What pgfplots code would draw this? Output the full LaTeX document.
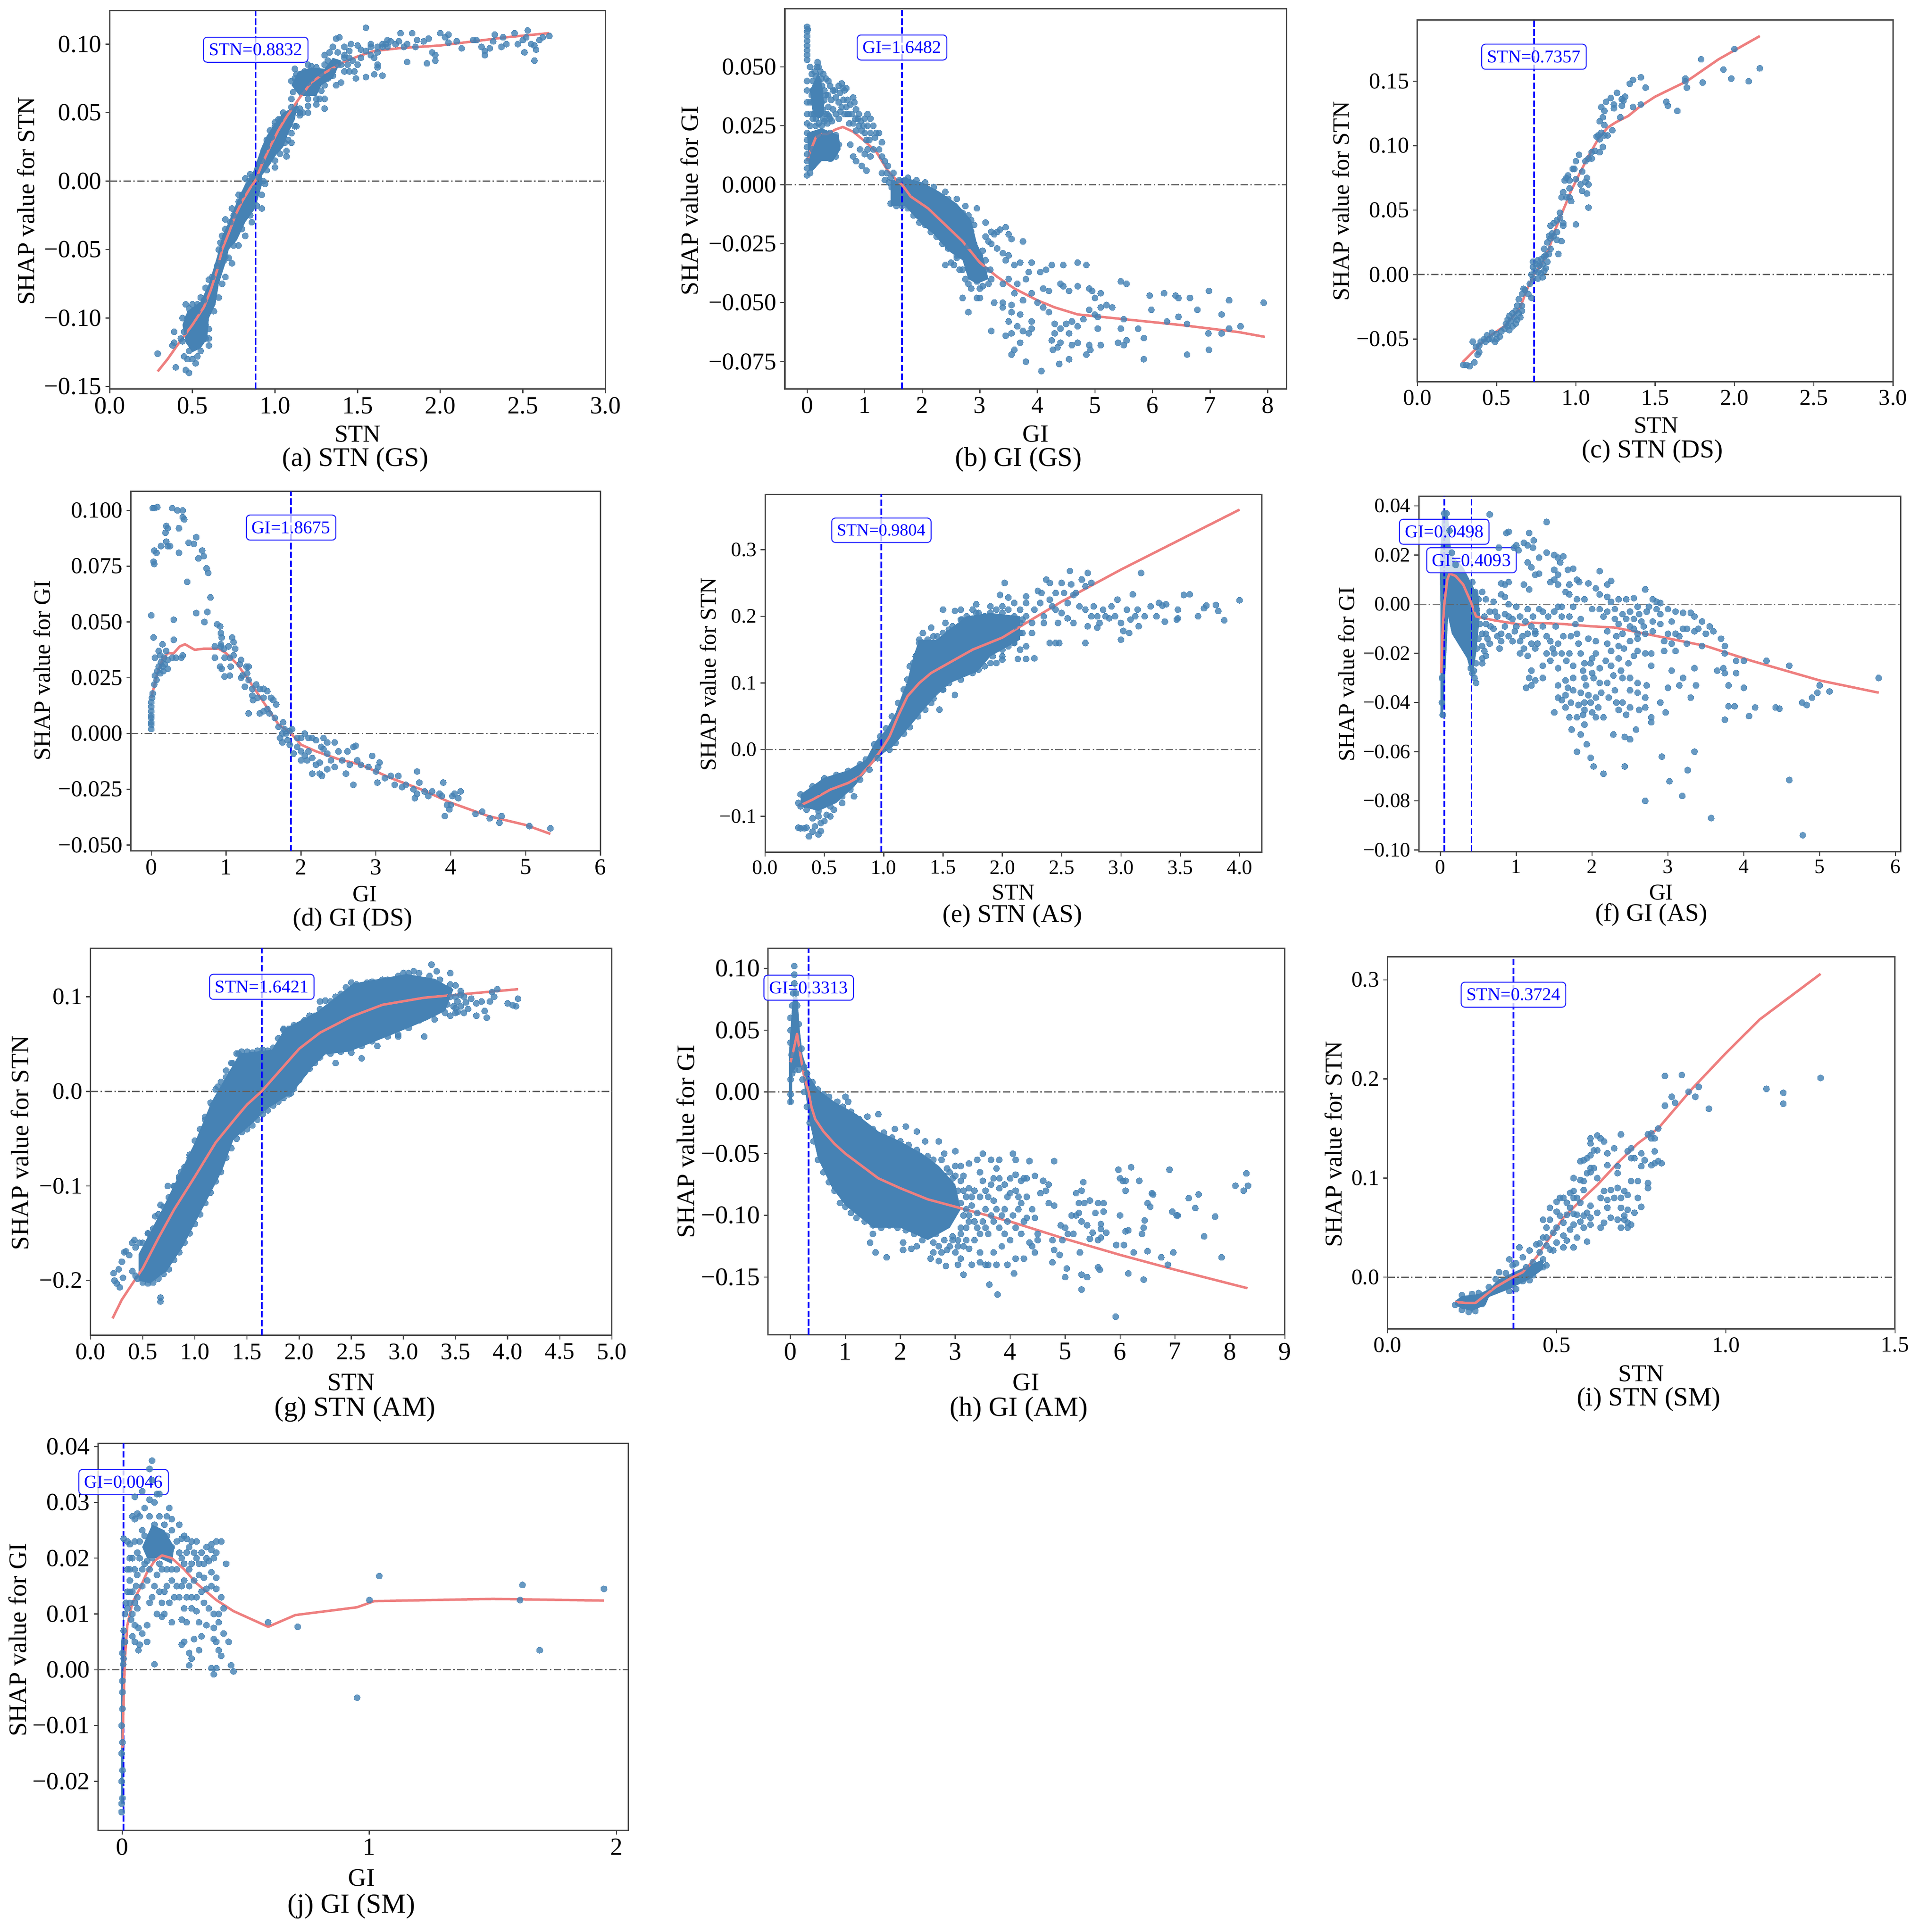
\documentclass[border=0pt]{standalone}
\usepackage{fontspec}
\setmainfont{Liberation Serif}
\usepackage{pgfplots}
\pgfplotsset{compat=1.18}
\definecolor{steel}{HTML}{4682B4}
\definecolor{fitred}{HTML}{EE7F7F}
\definecolor{frame}{HTML}{444444}
\pgfplotsset{
  shap/.style={scale only axis, anchor=south west, clip=false, scaled ticks=false, axis line style={color=frame,line width=.55pt},
    tick style={color=frame,line width=.45pt}, major tick length=1.75pt, tick align=outside,
    xtick pos=left, ytick pos=left, tick label style={inner sep=1.4pt},
    xlabel style={anchor=center,inner sep=0pt}, ylabel style={anchor=center,inner sep=0pt}},
  shapfont/.style 2 args={tick label style={font=\fontsize{#1}{#1}\selectfont}, label style={font=\fontsize{#2}{#2}\selectfont}},
  dots/.style={only marks, color=steel, mark=*, mark size=1.25pt, mark options={draw=steel,line width=0pt,fill=steel,opacity=.82}},
  cloud/.style={draw=none, fill=steel},
  fitline/.style={fitred, line width=1pt, no marks, line join=round},
  vl/.style={blue, line width=.7pt, dash pattern=on 2.6pt off 1pt, no marks},
  hl/.style={color=black!62, line width=.5pt, dash pattern=on 3pt off 1pt on .6pt off 1pt, no marks},
}
\tikzset{ann/.style={draw=blue!85, fill=white, fill opacity=.75, text opacity=1, text=blue, rounded corners=1.5pt,
    inner xsep=2.2pt, inner ysep=2.6pt, line width=.4pt, font=\fontsize{7.3}{8}\selectfont},
  subcap/.style={font=\fontsize{#1}{12}\selectfont}}
\begin{document}
\begin{tikzpicture}
\useasboundingbox (0,0) rectangle (777.5pt,783.5pt);

% (a) STN (GS)
\begin{axis}[shap, shapfont={10}{9.9}, at={(44.5pt,625.75pt)}, width=201pt, height=153.4pt,
  xmin=0, xmax=3, ymin=-0.1518, ymax=0.1244,
  xtick={0,0.5,1,1.5,2,2.5,3}, xticklabels={0.0,0.5,1.0,1.5,2.0,2.5,3.0},
  ytick={-0.15,-0.1,-0.05,0,0.05,0.1}, yticklabels={−0.15,−0.10,−0.05,0.00,0.05,0.10},
  xlabel={STN}, ylabel={SHAP value for STN},
  xlabel style={at={(axis description cs:.5,-.119)}}, ylabel style={at={(axis description cs:-.169,.497)}}]
\addplot[cloud] coordinates {(0.46,-0.118)(0.44,-0.105)(0.47,-0.095)(0.55,-0.088)(0.6,-0.075)(0.65,-0.055)(0.68,-0.04)(0.72,-0.03)(0.77,-0.015)(0.82,-0.002)(0.86,0.004)(0.92,0.025)(0.95,0.033)(1.0,0.042)(1.05,0.05)(1.1,0.053)(1.14,0.058)(1.12,0.045)(1.08,0.035)(1.05,0.025)(1.0,0.018)(0.97,0.012)(0.92,0.004)(0.92,-0.003)(0.88,-0.02)(0.82,-0.03)(0.77,-0.043)(0.72,-0.05)(0.7,-0.06)(0.66,-0.075)(0.64,-0.09)(0.6,-0.1)(0.59,-0.115)(0.55,-0.122)(0.5,-0.125)} --cycle;
\addplot[cloud] coordinates {(1.1,0.07)(1.14,0.08)(1.22,0.083)(1.3,0.082)(1.35,0.09)(1.4,0.088)(1.35,0.075)(1.28,0.07)(1.25,0.062)(1.15,0.062)} --cycle;
\addplot[dots] coordinates {(0.29,-0.126)(0.38,-0.12)(0.39,-0.118)(0.39,-0.11)(0.4,-0.136)(0.44,-0.117)(0.46,-0.138)(0.48,-0.14)(0.45,-0.128)(0.47,-0.13)(0.5,-0.13)(0.52,-0.133)(0.53,-0.128)(0.48,-0.124)(0.55,-0.124)(0.43,-0.115)(0.45,-0.11)(0.47,-0.1)(0.48,-0.093)(0.5,-0.098)(0.53,-0.09)(0.57,-0.087)(0.58,-0.078)(0.6,-0.072)(0.62,-0.07)(0.65,-0.062)(0.66,-0.05)(0.68,-0.04)(0.7,-0.035)(0.73,-0.03)(0.75,-0.025)(0.78,-0.015)(0.8,-0.01)(0.84,0)(0.86,0.003)(0.9,0.003)(0.93,0)(0.94,-0.002)(0.89,-0.018)(0.85,-0.025)(0.8,-0.035)(0.75,-0.047)(0.74,-0.06)(0.69,-0.058)(0.7,-0.07)(0.6,-0.115)(0.58,-0.105)(0.92,0.015)(0.93,0.022)(0.95,0.03)(0.97,0.037)(1,0.04)(1.03,0.045)(1.05,0.05)(1.1,0.054)(1.13,0.052)(1.0,0.015)(1.03,0.02)(1.07,0.022)(1.06,0.028)(1.1,0.035)(1.12,0.04)(1.15,0.048)(1.15,0.053)(1.2,0.055)(1.17,0.05)(1.1,0.06)(1.11,0.065)(1.12,0.075)(1.13,0.078)(1.18,0.08)(1.22,0.084)(1.25,0.083)(1.3,0.085)(1.32,0.088)(1.33,0.094)(1.35,0.098)(1.3,0.092)(1.37,0.104)(1.39,0.105)(1.42,0.098)(1.46,0.1)(1.5,0.099)(1.45,0.095)(1.38,0.094)(1.42,0.09)(1.47,0.088)(1.5,0.085)(1.55,0.112)(1.55,0.095)(1.58,0.098)(1.6,0.09)(1.65,0.098)(1.67,0.1)(1.7,0.102)(1.73,0.1)(1.76,0.108)(1.8,0.1)(1.83,0.108)(1.78,0.098)(1.85,0.098)(1.86,0.103)(1.9,0.102)(1.93,0.104)(1.95,0.094)(1.97,0.092)(1.92,0.086)(1.97,0.088)(2.0,0.108)(2.03,0.105)(2.05,0.107)(2.05,0.101)(2.1,0.102)(2.13,0.097)(2.2,0.103)(2.22,0.103)(2.25,0.098)(2.27,0.092)(2.27,0.095)(2.3,0.097)(2.32,0.102)(2.33,0.107)(2.37,0.098)(2.38,0.105)(2.4,0.1)(2.45,0.108)(2.47,0.1)(2.5,0.103)(2.52,0.105)(2.53,0.11)(2.55,0.1)(2.57,0.099)(2.58,0.096)(2.6,0.103)(2.62,0.105)(2.66,0.106)(2.51,0.094)(2.57,0.088)(1.8,0.087)(1.62,0.085)(1.6,0.078)(1.65,0.077)(1.62,0.083)(1.55,0.076)(1.49,0.075)(1.4,0.072)(1.37,0.07)(1.3,0.07)(1.3,0.06)(1.3,0.053)(1.25,0.06)(1.2,0.06)(1.15,0.05)(1.28,0.078)(1.32,0.075)(1.35,0.08)(1.42,0.08)(1.45,0.08)(1.28,0.066)(1.22,0.067)(1.25,0.056)(1.35,0.077)(1.4,0.085)(1.44,0.085)(1.52,0.09)(1.58,0.092)(1.62,0.094)(1.68,0.098)
(0.44,-0.1)(0.46,-0.09)(0.5,-0.09)(0.53,-0.095)(0.55,-0.085)(0.6,-0.12)(0.58,-0.115)(0.6,-0.108)(0.63,-0.095)(0.66,-0.085)(0.68,-0.075)(0.66,-0.06)(0.67,-0.045)(0.7,-0.028)(0.74,-0.02)(0.78,-0.01)(0.82,0.002)(0.85,0.005)(0.88,-0.005)(0.92,-0.01)(0.92,-0.02)(0.86,-0.03)(0.82,-0.04)(0.78,-0.047)(0.72,-0.056)(0.75,-0.04)(0.7,-0.055)(0.95,0.025)(0.98,0.032)(1,0.043)(1.02,0.045)(1.08,0.03)(1.1,0.028)(1.07,0.018)(1,0.01)(0.95,0.008)(1.13,0.04)(1.2,0.05)(1.2,0.072)(1.25,0.07)(1.3,0.075)(1.15,0.07)(1.17,0.065)(1.22,0.075)(1.27,0.06)(1.1,0.073)(1.12,0.082)(1.2,0.085)(1.35,0.086)(1.38,0.085)(1.42,0.092)(1.45,0.09)(1.48,0.08)(1.52,0.096)(1.58,0.1)(1.62,0.098)(1.65,0.1)(1.75,0.102)(1.68,0.103)};
\addplot[hl] coordinates {(0,0)(3,0)};
\addplot[vl] coordinates {(0.8832,-0.1518)(0.8832,0.1244)};
\addplot[fitline] coordinates {(0.29,-0.139)(0.35,-0.13)(0.42,-0.118)(0.5,-0.105)(0.57,-0.092)(0.61,-0.08)(0.65,-0.065)(0.68,-0.05)(0.72,-0.038)(0.76,-0.025)(0.8,-0.015)(0.85,-0.005)(0.88,0)(0.92,0.012)(0.97,0.025)(1.02,0.037)(1.07,0.047)(1.15,0.061)(1.22,0.072)(1.3,0.079)(1.4,0.086)(1.5,0.091)(1.6,0.095)(1.75,0.097)(2.0,0.099)(2.2,0.102)(2.4,0.105)(2.66,0.108)};
\node[ann] at (axis cs:0.8832,0.0959) {STN=0.8832};
\end{axis}
\node[subcap=10.9] at (144pt,597pt) {(a) STN (GS)};

% (b) GI (GS)
\begin{axis}[shap, shapfont={9.8}{10}, at={(318.2pt,625.75pt)}, width=203.4pt, height=154.25pt,
  xmin=-0.388, xmax=8.326, ymin=-0.0866, ymax=0.0747,
  xtick={0,1,2,3,4,5,6,7,8}, xticklabels={0,1,2,3,4,5,6,7,8},
  ytick={-0.075,-0.05,-0.025,0,0.025,0.05}, yticklabels={−0.075,−0.050,−0.025,0.000,0.025,0.050},
  xlabel={GI}, ylabel={SHAP value for GI},
  xlabel style={at={(axis description cs:.5,-.118)}}, ylabel style={at={(axis description cs:-.19,.495)}}]
\addplot[cloud] coordinates {(1.45,0.002)(1.7,0.003)(2,0.001)(2.3,-0.003)(2.6,-0.008)(2.85,-0.015)(2.95,-0.025)(3.05,-0.03)(3.15,-0.04)(2.95,-0.042)(2.8,-0.04)(2.7,-0.032)(2.45,-0.028)(2.2,-0.021)(2,-0.017)(1.7,-0.009)(1.45,-0.009)} --cycle;
\addplot[cloud] coordinates {(0.03,0.006)(0,0.022)(0.25,0.024)(0.55,0.021)(0.58,0.015)(0.45,0.01)(0.25,0.01)(0.1,0.006)} --cycle;
\addplot[cloud] coordinates {(0.05,0.04)(0.2,0.048)(0.28,0.04)(0.3,0.03)(0.2,0.028)(0.1,0.03)} --cycle;
\addplot[dots] coordinates {(0,0.067)(0,0.065)(0,0.063)(0,0.061)(0,0.059)(0,0.057)(0,0.055)(0,0.053)(0.01,0.066)(0,0.004)(0,0.007)(0,0.01)(0,0.013)(0,0.016)(0,0.019)(0,0.022)(0,0.026)(0,0.03)(0,0.035)(0,0.04)(0,0.044)(0.05,0.05)(0.08,0.047)(0.1,0.044)(0.13,0.048)(0.17,0.05)(0.18,0.052)(0.2,0.05)(0.23,0.048)(0.25,0.045)(0.1,0.04)(0.13,0.038)(0.17,0.042)(0.2,0.044)(0.22,0.04)(0.26,0.042)(0.3,0.04)(0.33,0.045)(0.37,0.044)(0.4,0.042)(0.36,0.038)(0.3,0.036)(0.25,0.035)(0.2,0.036)(0.15,0.035)(0.1,0.035)(0.12,0.03)(0.17,0.03)(0.22,0.03)(0.27,0.032)(0.32,0.03)(0.37,0.033)(0.42,0.036)(0.45,0.032)(0.4,0.028)(0.35,0.026)(0.3,0.027)(0.25,0.025)(0.2,0.026)(0.15,0.025)(0.05,0.025)(0.05,0.035)(0.55,0.042)(0.57,0.039)(0.6,0.043)(0.62,0.041)(0.65,0.04)(0.68,0.041)(0.7,0.036)(0.55,0.035)(0.5,0.03)(0.55,0.028)(0.6,0.033)(0.65,0.03)(0.7,0.03)(0.73,0.026)(0.8,0.037)(0.82,0.035)(0.85,0.032)(0.9,0.03)(0.78,0.03)(0.88,0.028)(0.93,0.027)(0.8,0.026)(0.95,0.023)(1,0.028)(1.05,0.03)(1.1,0.028)(1.15,0.025)(1.05,0.025)(1.2,0.022)(1.25,0.022)(1.1,0.022)(1.0,0.022)(0.85,0.023)(0.75,0.017)(0.8,0.012)(0.85,0.01)(0.95,0.008)(1.03,0.006)(0.92,0.015)(1.0,0.013)(1.05,0.015)(1.1,0.012)(1.15,0.015)(1.25,0.015)(1.3,0.018)(1.3,0.012)(1.35,0.01)(1.4,0.008)(1.38,0.005)(1.3,0.005)(1.35,0.002)(1.42,0.001)(1.47,-0.001)(1.45,0.003)(1.5,0.005)(0.1,0.015)(0.2,0.021)(0.3,0.021)(0.4,0.022)(0.5,0.021)(0.55,0.017)(0.5,0.012)(0.4,0.011)(0.3,0.012)(0.2,0.011)(0.1,0.008)(0.05,0.005)(1.7,0.002)(1.85,-0.001)(2,-0.002)(2.2,-0.004)(2.3,-0.007)(2.45,-0.006)(2.55,-0.009)(2.6,-0.012)(2.7,-0.012)(2.8,-0.013)(2.85,-0.015)(2.9,-0.017)(2.85,-0.02)(2.9,-0.025)(2.8,-0.026)(2.6,-0.03)(2.5,-0.033)(2.4,-0.034)(2.55,-0.034)(2.65,-0.036)(2.7,-0.036)(2.75,-0.04)(2.8,-0.042)(2.85,-0.044)(2.9,-0.037)(3.0,-0.03)(3.1,-0.036)(3.1,-0.016)(3.2,-0.02)(3.25,-0.021)(3.3,-0.02)(3.35,-0.019)(3.45,-0.018)(3.5,-0.021)(3.55,-0.023)(3.75,-0.024)(3.1,-0.022)(3.15,-0.024)(3.2,-0.025)(3.3,-0.027)(3.4,-0.029)(3.5,-0.03)(3.45,-0.032)(3.6,-0.034)(3.7,-0.033)(3.9,-0.033)(3.85,-0.037)(4.05,-0.037)(4.15,-0.036)(4.25,-0.034)(4.45,-0.034)(4.7,-0.033)(4.85,-0.034)(3.8,-0.04)(3.65,-0.042)(3.5,-0.04)(3.4,-0.042)(3.2,-0.04)(3.05,-0.043)(3,-0.048)(2.7,-0.048)(2.95,-0.048)(2.8,-0.054)(3.25,-0.05)(3.4,-0.05)(3.55,-0.051)(3.6,-0.046)(3.75,-0.049)(3.9,-0.046)(4.1,-0.044)(4.2,-0.045)(4,-0.05)(4.1,-0.052)(4.2,-0.054)(3.9,-0.058)(3.7,-0.055)(3.55,-0.054)(3.4,-0.052)(3.5,-0.058)(3.65,-0.06)(3.75,-0.062)(3.85,-0.063)(3.9,-0.061)(3.2,-0.062)(3.45,-0.064)(3.55,-0.063)(3.7,-0.067)(4.3,-0.059)(4.4,-0.061)(4.3,-0.063)(4.25,-0.066)(4.35,-0.069)(4.4,-0.067)(4.5,-0.059)(4.6,-0.058)(4.7,-0.06)(4.8,-0.057)(4.6,-0.068)(4.7,-0.067)(4.55,-0.063)(4.9,-0.053)(5,-0.048)(5.1,-0.046)(4.9,-0.044)(4.95,-0.045)(4.7,-0.043)(4.55,-0.045)(4.4,-0.042)(4.45,-0.043)(5.0,-0.055)(5.05,-0.056)(5.1,-0.052)(5.2,-0.051)(5.3,-0.052)(5.05,-0.061)(5.45,-0.041)(5.55,-0.042)(5.5,-0.057)(5.45,-0.061)(5.4,-0.067)(5.5,-0.068)(5.55,-0.066)(5.1,-0.068)(4.9,-0.068)(4.92,-0.07)(4.85,-0.072)(5.75,-0.061)(5.85,-0.065)(5.85,-0.074)(5.95,-0.047)(5.98,-0.053)(6.2,-0.046)(6.25,-0.058)(6.45,-0.048)(6.4,-0.047)(6.45,-0.056)(6.6,-0.059)(6.65,-0.048)(6.6,-0.072)(6.78,-0.053)(6.98,-0.045)(6.97,-0.063)(6.98,-0.07)(7.2,-0.055)(7.2,-0.063)(7.33,-0.049)(7.33,-0.061)(7.53,-0.06)(7.93,-0.05)(3.55,-0.072)(3.8,-0.075)(4.07,-0.079)(4.38,-0.076)(4.55,-0.074)(4.27,-0.07)(3.6,-0.07)
(1.45,-0.008)(1.55,-0.009)(1.65,-0.009)(1.75,-0.01)(1.85,-0.013)(1.95,-0.016)(2.05,-0.017)(2.15,-0.02)(2.25,-0.022)(2.35,-0.025)(2.45,-0.027)(2.6,-0.031)(2.95,-0.01)(2.75,-0.009)(2.6,-0.006)(2.4,-0.003)(2.2,-0.001)(2.05,0.001)(1.9,0.002)(1.75,0.003)(1.6,0.002)(3.05,-0.028)(3.1,-0.032)(3.18,-0.036)(3.15,-0.042)(3,-0.044)(2.95,-0.041)
(0.08,0.038)(0.15,0.046)(0.28,0.047)(0.33,0.038)(0.38,0.029)(0.43,0.027)(0.48,0.04)(0.5,0.037)(0.45,0.04)(0.58,0.031)(0.63,0.036)(0.68,0.033)(0.72,0.03)(0.75,0.034)(0.84,0.028)(0.9,0.025)(0.98,0.025)(1.08,0.019)(1.18,0.02)(1.03,0.019)(0.1,0.028)(0.28,0.028)(0.07,0.03)(0.15,0.028)(0.35,0.03)};
\addplot[hl] coordinates {(-0.388,0)(8.326,0)};
\addplot[vl] coordinates {(1.6482,-0.0866)(1.6482,0.0747)};
\addplot[fitline] coordinates {(0,0.01)(0.05,0.014)(0.15,0.02)(0.25,0.0215)(0.35,0.0215)(0.5,0.0235)(0.62,0.0245)(0.8,0.0225)(1.0,0.0185)(1.2,0.014)(1.4,0.006)(1.55,0.002)(1.65,0)(1.8,-0.005)(2.1,-0.01)(2.4,-0.017)(2.7,-0.024)(3,-0.033)(3.3,-0.039)(3.6,-0.044)(4,-0.049)(4.3,-0.052)(4.7,-0.055)(5.5,-0.057)(6.5,-0.0595)(7,-0.061)(7.5,-0.0625)(7.95,-0.0645)};
\node[ann] at (axis cs:1.6482,0.0582) {GI=1.6482};
\end{axis}
\node[subcap=11] at (413pt,597pt) {(b) GI (GS)};

% (c) STN (DS)
\begin{axis}[shap, shapfont={9.2}{9.5}, at={(574.65pt,628.6pt)}, width=192.9pt, height=146.7pt,
  xmin=0, xmax=3, ymin=-0.0832, ymax=0.1973,
  xtick={0,0.5,1,1.5,2,2.5,3}, xticklabels={0.0,0.5,1.0,1.5,2.0,2.5,3.0},
  ytick={-0.05,0,0.05,0.1,0.15}, yticklabels={−0.05,0.00,0.05,0.10,0.15},
  xlabel={STN}, ylabel={SHAP value for STN},
  xlabel style={at={(axis description cs:.502,-.12)}}, ylabel style={at={(axis description cs:-.161,.5)}}]
\addplot[dots] coordinates {(0.29,-0.07)(0.31,-0.07)(0.33,-0.071)(0.36,-0.068)(0.38,-0.062)(0.39,-0.06)(0.35,-0.052)(0.37,-0.056)(0.39,-0.055)(0.4,-0.052)(0.42,-0.05)(0.44,-0.047)(0.43,-0.052)(0.45,-0.05)(0.47,-0.05)(0.49,-0.052)(0.5,-0.05)(0.52,-0.048)(0.5,-0.046)(0.47,-0.045)(0.53,-0.044)(0.55,-0.042)(0.57,-0.04)(0.58,-0.043)(0.6,-0.04)(0.62,-0.038)(0.63,-0.035)(0.65,-0.033)(0.56,-0.038)(0.57,-0.035)(0.58,-0.032)(0.6,-0.03)(0.62,-0.028)(0.64,-0.03)(0.66,-0.028)(0.66,-0.024)(0.63,-0.024)(0.61,-0.033)(0.59,-0.036)(0.64,-0.019)(0.66,-0.015)(0.67,-0.011)(0.68,-0.012)(0.7,-0.015)(0.72,-0.018)(0.71,-0.007)(0.73,-0.003)(0.72,0)(0.74,0.003)(0.73,0.006)(0.75,0.008)(0.73,0.01)(0.76,0.011)(0.78,0.012)(0.8,0.014)(0.81,0.015)(0.83,0.016)(0.76,0.002)(0.78,0.001)(0.8,0.003)(0.81,0.005)(0.79,-0.002)(0.76,-0.003)(0.77,0.007)(0.79,0.008)(0.82,0.01)(0.8,0.02)(0.84,0.02)(0.82,0.025)(0.84,0.028)(0.83,0.03)(0.85,0.032)(0.86,0.03)(0.88,0.033)(0.84,0.038)(0.86,0.04)(0.88,0.042)(0.9,0.044)(0.92,0.04)(0.92,0.038)(0.9,0.048)(0.88,0.027)(0.91,0.026)(0.89,0.016)(1.0,0.039)(0.91,0.06)(0.92,0.064)(0.94,0.06)(0.96,0.06)(0.97,0.057)(0.96,0.067)(0.93,0.073)(0.94,0.075)(0.95,0.077)(0.96,0.073)(0.98,0.082)(0.99,0.082)(1,0.088)(1.02,0.093)(1.0,0.074)(1.03,0.07)(1.04,0.08)(1.06,0.088)(1.07,0.075)(1.06,0.072)(1.08,0.07)(1.07,0.063)(1.04,0.065)(1.08,0.052)(1.08,0.09)(1.1,0.095)(1.1,0.09)(1.12,0.096)(1.14,0.108)(1.13,0.107)(1.16,0.11)(1.15,0.105)(1.18,0.108)(1.2,0.108)(1.17,0.099)(1.15,0.095)(1.23,0.112)(1.15,0.119)(1.17,0.122)(1.18,0.116)(1.16,0.13)(1.19,0.134)(1.18,0.127)(1.22,0.137)(1.24,0.132)(1.24,0.129)(1.26,0.141)(1.29,0.136)(1.31,0.138)(1.3,0.135)(1.29,0.131)(1.28,0.122)(1.36,0.13)(1.34,0.148)(1.36,0.151)(1.41,0.153)(1.44,0.145)(1.41,0.132)(1.57,0.134)(1.58,0.131)(1.64,0.127)(1.69,0.15)(1.69,0.152)(1.7,0.145)(1.8,0.149)(1.79,0.167)(1.93,0.159)(1.98,0.152)(2.0,0.175)(2.09,0.15)(2.16,0.16)};
\addplot[hl] coordinates {(0,0)(3,0)};
\addplot[vl] coordinates {(0.7357,-0.0832)(0.7357,0.1973)};
\addplot[fitline] coordinates {(0.285,-0.068)(0.35,-0.06)(0.43,-0.05)(0.5,-0.044)(0.55,-0.04)(0.6,-0.033)(0.65,-0.025)(0.69,-0.012)(0.7357,0)(0.78,0.007)(0.83,0.02)(0.87,0.035)(0.92,0.05)(0.97,0.065)(1.03,0.08)(1.08,0.092)(1.14,0.105)(1.2,0.114)(1.25,0.118)(1.33,0.123)(1.4,0.13)(1.5,0.138)(1.7,0.15)(1.9,0.167)(2.16,0.185)};
\node[ann] at (axis cs:0.7357,0.169) {STN=0.7357};
\end{axis}
\node[subcap=10.5] at (670pt,600.5pt) {(c) STN (DS)};

% (d) GI (DS)
\begin{axis}[shap, shapfont={9.3}{9.5}, at={(53.1pt,438.35pt)}, width=190.4pt, height=145.85pt,
  xmin=-0.271, xmax=6, ymin=-0.0527, ymax=0.1085,
  xtick={0,1,2,3,4,5,6}, xticklabels={0,1,2,3,4,5,6},
  ytick={-0.05,-0.025,0,0.025,0.05,0.075,0.1}, yticklabels={−0.050,−0.025,0.000,0.025,0.050,0.075,0.100},
  xlabel={GI}, ylabel={SHAP value for GI},
  xlabel style={at={(axis description cs:.498,-.119)}}, ylabel style={at={(axis description cs:-.19,.502)}}]
\addplot[dots] coordinates {(0.02,0.101)(0.04,0.101)(0.08,0.1015)(0.28,0.101)(0.35,0.1)(0.42,0.1)(0.42,0.097)(0.44,0.096)(0.2,0.093)(0.22,0.092)(0.19,0.09)(0.37,0.092)(0.13,0.084)(0.2,0.086)(0.22,0.084)(0.25,0.084)(0.5,0.0855)(0.57,0.085)(0.6,0.088)(0.04,0.082)(0.07,0.081)(0.37,0.081)(0.68,0.082)(0.7,0.0795)(0.63,0.0785)(0.03,0.077)(0.04,0.076)(0.74,0.074)(0.76,0.072)(0.48,0.068)(0.79,0.061)(0.6,0.054)(0.75,0.0545)(0.71,0.05)(0,0.053)(0.3,0.051)(0.03,0.043)(0.3,0.042)(0.15,0.04)(0.1,0.037)(0.2,0.037)(0.05,0.034)(0.12,0.035)(0.17,0.034)(0.22,0.033)(0.28,0.034)(0.33,0.034)(0.4,0.034)(0.42,0.035)(0.05,0.026)(0.08,0.028)(0.1,0.03)(0.13,0.032)(0.15,0.03)(0.18,0.031)(0.07,0.024)(0.04,0.022)(0.12,0.027)(0.16,0.028)(0.22,0.029)(0.02,0.018)(0.01,0.016)(0,0.014)(0,0.012)(0,0.01)(0,0.008)(0,0.007)(0,0.005)(0,0.004)(0,0.002)(0.88,0.049)(0.92,0.048)(0.93,0.045)(0.94,0.043)(0.93,0.04)(0.85,0.039)(0.93,0.039)(0.97,0.038)(1.03,0.039)(1.08,0.043)(1.1,0.041)(1.12,0.038)(0.85,0.034)(0.98,0.034)(1.05,0.034)(1.1,0.035)(0.92,0.03)(0.94,0.029)(1.06,0.03)(0.98,0.0255)(1.05,0.026)(1.2,0.033)(1.18,0.031)(1.27,0.03)(1.3,0.03)(1.22,0.026)(1.2,0.025)(1.28,0.027)(1.3,0.024)(1.25,0.021)(1.35,0.02)(1.4,0.022)(1.45,0.02)(1.5,0.02)(1.55,0.019)(1.35,0.017)(1.42,0.016)(1.3,0.009)(1.36,0.015)(1.5,0.016)(1.6,0.016)(1.63,0.015)(1.67,0.013)(1.5,0.01)(1.55,0.011)(1.58,0.009)(1.45,0.009)(1.65,0.007)(1.7,0.003)(1.76,0.005)(1.78,0.002)(1.75,0)(1.8,0)(1.72,-0.002)(1.75,-0.004)(1.85,0.001)(1.88,0.002)(1.82,-0.003)(1.85,-0.005)(1.9,-0.009)(1.95,-0.002)(2,-0.002)(2.05,0)(2.1,-0.002)(2.15,-0.002)(2.2,-0.003)(2.3,-0.002)(2.35,-0.004)(2.27,-0.006)(2.45,-0.004)(1.95,-0.006)(2,-0.008)(2.05,-0.01)(2.1,-0.008)(2.15,-0.011)(2.25,-0.013)(2.3,-0.007)(2.35,-0.009)(2.0,-0.012)(2.08,-0.012)(2.2,-0.014)(2.15,-0.018)(2.25,-0.018)(2.28,-0.019)(2.35,-0.016)(2.4,-0.012)(2.45,-0.015)(2.5,-0.008)(2.55,-0.012)(2.62,-0.008)(2.65,-0.014)(2.6,-0.018)(2.7,-0.006)(2.73,-0.0055)(2.75,-0.012)(2.8,-0.014)(2.7,-0.023)(2.95,-0.01)(3.05,-0.013)(3.03,-0.015)(2.9,-0.015)(3,-0.017)(3.02,-0.022)(3.12,-0.02)(3.2,-0.019)(3.25,-0.023)(3.3,-0.019)(3.35,-0.024)(3.4,-0.023)(3.5,-0.025)(3.55,-0.017)(3.58,-0.022)(3.52,-0.029)(3.55,-0.027)(3.65,-0.026)(3.7,-0.028)(3.75,-0.026)(3.85,-0.027)(3.88,-0.028)(3.9,-0.022)(3.95,-0.032)(3.98,-0.034)(4.02,-0.028)(4.05,-0.027)(4.1,-0.029)(4.13,-0.026)(4,-0.032)(3.92,-0.037)(4.33,-0.036)(4.42,-0.035)(4.52,-0.038)(4.65,-0.04)(4.68,-0.037)(5.05,-0.0415)(5.33,-0.0425)};
\addplot[hl] coordinates {(-0.271,0)(6,0)};
\addplot[vl] coordinates {(1.8675,-0.0527)(1.8675,0.1085)};
\addplot[fitline] coordinates {(0,0.016)(0.03,0.02)(0.08,0.027)(0.15,0.033)(0.22,0.036)(0.3,0.036)(0.38,0.039)(0.45,0.04)(0.58,0.0375)(0.7,0.038)(0.9,0.038)(1.0,0.036)(1.15,0.031)(1.3,0.024)(1.5,0.014)(1.7,0.004)(1.8675,0)(2,-0.005)(2.2,-0.008)(2.5,-0.0115)(2.8,-0.014)(3.2,-0.02)(3.6,-0.025)(4,-0.031)(4.5,-0.037)(5,-0.041)(5.33,-0.045)};
\node[ann] at (axis cs:1.8675,0.0923) {GI=1.8675};
\end{axis}
\node[subcap=10.4] at (143pt,410.5pt) {(d) GI (DS)};

% (e) STN (AS)
\begin{axis}[shap, shapfont={8.3}{9.2}, at={(310.2pt,437.9pt)}, width=201.35pt, height=145.1pt,
  xmin=0, xmax=4.186, ymin=-0.1538, ymax=0.3828,
  xtick={0,0.5,1,1.5,2,2.5,3,3.5,4}, xticklabels={0.0,0.5,1.0,1.5,2.0,2.5,3.0,3.5,4.0},
  ytick={-0.1,0,0.1,0.2,0.3}, yticklabels={−0.1,0.0,0.1,0.2,0.3},
  xlabel={STN}, ylabel={SHAP value for STN},
  xlabel style={at={(axis description cs:.5,-.113)}}, ylabel style={at={(axis description cs:-.115,.497)}}]
\addplot[cloud] coordinates {(0.3,-0.085)(0.45,-0.092)(0.6,-0.08)(0.75,-0.056)(0.9,-0.022)(1,-0.005)(1.08,0.005)(1.17,0.024)(1.29,0.05)(1.42,0.077)(1.56,0.1)(1.79,0.117)(1.9,0.14)(2.15,0.165)(2.15,0.2)(1.9,0.205)(1.7,0.2)(1.55,0.18)(1.45,0.165)(1.3,0.165)(1.25,0.14)(1.2,0.103)(1.15,0.08)(1.1,0.055)(1.02,0.03)(0.93,0.012)(0.85,-0.015)(0.7,-0.031)(0.5,-0.042)(0.3,-0.067)} --cycle;
\addplot[dots] coordinates {(0.28,-0.117)(0.3,-0.118)(0.33,-0.118)(0.35,-0.117)(0.37,-0.13)(0.4,-0.123)(0.42,-0.115)(0.45,-0.127)(0.47,-0.122)(0.4,-0.103)(0.45,-0.1)(0.47,-0.11)(0.5,-0.107)(0.55,-0.1)(0.52,-0.098)(0.58,-0.09)(0.28,-0.08)(0.35,-0.069)(0.45,-0.063)(0.55,-0.045)(0.65,-0.04)(0.75,-0.07)(0.65,-0.08)(1.47,0.06)(1.6,0.082)(1.4,0.07)(1.5,0.09)(1.3,0.16)(1.35,0.16)(1.4,0.183)(1.33,0.175)(1.45,0.155)(1.5,0.21)(1.52,0.19)(1.6,0.208)(1.65,0.21)(1.55,0.18)(1.6,0.18)(1.7,0.2)(1.72,0.185)(1.75,0.21)(1.78,0.218)(1.85,0.2)(1.9,0.215)(1.95,0.21)(2,0.215)(2.05,0.21)(1.98,0.232)(2.02,0.25)(2.05,0.228)(2.1,0.22)(2.15,0.21)(2.17,0.195)(2.2,0.22)(2.2,0.23)(2.2,0.2)(2.25,0.175)(2.25,0.19)(2.27,0.21)(2.3,0.238)(2.32,0.22)(2.33,0.235)(2.35,0.2)(2.35,0.19)(2.37,0.255)(2.4,0.225)(2.4,0.25)(2.42,0.215)(2.45,0.21)(2.45,0.235)(2.47,0.19)(2.5,0.25)(2.5,0.205)(2.52,0.235)(2.55,0.22)(2.55,0.197)(2.57,0.268)(2.58,0.248)(2.6,0.232)(2.6,0.19)(2.62,0.235)(2.65,0.215)(2.67,0.255)(2.7,0.245)(2.7,0.21)(2.72,0.265)(2.75,0.25)(2.75,0.2)(2.77,0.215)(2.8,0.2)(2.8,0.183)(2.82,0.19)(2.7,0.16)(2.72,0.185)(2.85,0.21)(2.87,0.2)(2.9,0.197)(2.92,0.215)(2.95,0.2)(3,0.19)(2.97,0.225)(3,0.165)(3.02,0.178)(3.07,0.175)(3.05,0.21)(3.08,0.195)(3.1,0.233)(3.12,0.2)(3.14,0.21)(3.15,0.185)(3.17,0.265)(3.2,0.2)(3.25,0.215)(3.3,0.2)(3.32,0.22)(3.35,0.216)(3.38,0.218)(3.37,0.192)(3.48,0.21)(3.48,0.197)(3.47,0.195)(3.53,0.232)(3.58,0.233)(3.65,0.2)(3.7,0.212)(3.72,0.216)(3.8,0.217)(3.82,0.208)(3.87,0.194)(4,0.224)(2.4,0.16)(2.45,0.16)(2.48,0.16)(2.2,0.136)(2.13,0.136)(2.27,0.137)(2.15,0.15)(2.2,0.155)(1.95,0.13)(2.0,0.135)(1.9,0.13)(2.05,0.155)(2.1,0.16)(1.8,0.12)(1.75,0.115)(1.7,0.12)(1.65,0.115)(1.6,0.12)(1.3,0.14)(1.25,0.13)(1.35,0.145)(1.45,0.17)(1.55,0.175)(1.65,0.195)(1.8,0.205)(1.85,0.18)(2.1,0.185)(2.15,0.175)(2.0,0.14)
(0.3,-0.067)(0.4,-0.055)(0.5,-0.043)(0.6,-0.038)(0.7,-0.032)(0.8,-0.022)(0.85,-0.015)(0.92,0.008)(0.97,0.02)(1.02,0.032)(1.07,0.05)(1.12,0.07)(1.17,0.09)(1.2,0.105)(1.22,0.125)(1.27,0.14)(1.3,0.165)(1.37,0.165)(1.42,0.17)(1.5,0.175)(1.58,0.185)(1.66,0.195)(1.78,0.205)(1.9,0.205)(2.0,0.205)(2.1,0.2)(2.15,0.19)(2.17,0.175)(2.1,0.16)(2.0,0.15)(1.92,0.14)(1.85,0.125)(1.75,0.12)(1.65,0.105)(1.55,0.1)(1.5,0.09)(1.42,0.077)(1.35,0.06)(1.29,0.05)(1.22,0.034)(1.17,0.024)(1.1,0.01)(1.05,0)(0.95,-0.013)(0.88,-0.03)(0.8,-0.045)(0.72,-0.06)(0.65,-0.07)(0.55,-0.085)(0.45,-0.092)(0.35,-0.09)(0.3,-0.085)};
\addplot[hl] coordinates {(0,0)(4.186,0)};
\addplot[vl] coordinates {(0.9804,-0.1538)(0.9804,0.3828)};
\addplot[fitline] coordinates {(0.28,-0.085)(0.4,-0.075)(0.55,-0.06)(0.7,-0.05)(0.8,-0.04)(0.9,-0.02)(0.98,0)(1.05,0.02)(1.12,0.05)(1.2,0.08)(1.3,0.1)(1.4,0.115)(1.5,0.125)(1.6,0.135)(1.75,0.15)(2.0,0.168)(2.2,0.19)(2.5,0.222)(3.0,0.27)(3.5,0.315)(4.0,0.36)};
\node[ann,font=\fontsize{6.9}{8}\selectfont] at (axis cs:0.9804,0.329) {STN=0.9804};
\end{axis}
\node[subcap=10.4] at (410.5pt,412pt) {(e) STN (AS)};

% (f) GI (AS)
\begin{axis}[shap, shapfont={8.3}{9.2}, at={(575.25pt,438.1pt)}, width=195.45pt, height=144.1pt,
  xmin=-0.286, xmax=6.071, ymin=-0.1007, ymax=0.0439,
  xtick={0,1,2,3,4,5,6}, xticklabels={0,1,2,3,4,5,6},
  ytick={-0.1,-0.08,-0.06,-0.04,-0.02,0,0.02,0.04}, yticklabels={−0.10,−0.08,−0.06,−0.04,−0.02,0.00,0.02,0.04},
  xlabel={GI}, ylabel={SHAP value for GI},
  xlabel style={at={(axis description cs:.503,-.115)}}, ylabel style={at={(axis description cs:-.15,.499)}}]
\addplot[cloud] coordinates {(0,-0.046)(0,0)(-0.01,0.015)(0.02,0.036)(0.1,0.036)(0.13,0.025)(0.15,0.02)(0.3,0.015)(0.45,0.006)(0.5,0.005)(0.52,-0.005)(0.47,-0.02)(0.42,-0.03)(0.35,-0.022)(0.25,-0.017)(0.15,-0.012)(0.1,-0.005)(0.07,-0.025)(0.03,-0.046)} --cycle;
\addplot[dots] coordinates {(0.65,0.0365)(1.4,0.0335)(0.9,0.0295)(0.87,0.029)(1.17,0.029)(1.23,0.026)(1.1,0.025)(1,0.024)(0.97,0.023)(1.03,0.022)(1.15,0.024)(1.22,0.023)(0.77,0.023)(1.4,0.021)(1.3,0.019)(1.5,0.02)(1.55,0.019)(1.62,0.0195)(1.58,0.017)(1.15,0.017)(1.2,0.015)(1.3,0.0125)(1.25,0.012)(1.5,0.014)(1.55,0.012)(1.68,0.014)(1.75,0.0145)(1.8,0.01)(1.5,0.01)(1.45,0.009)(1.55,0.008)(1.7,0.008)(1.83,0.009)(1.95,0.0085)(2.05,0.0065)(2.1,0.0135)(2.25,0.0095)(2.2,0.008)(2.7,0.006)(0.8,0.0085)(0.85,0.008)(0.9,0.009)(1.1,0.008)(1.17,0.006)(0.8,0.004)(0.85,0.003)(1.65,0.005)(1.7,0.004)(1.8,0.002)(1.9,0.002)(2.1,0.004)(2.2,0.003)(2.25,0.001)(2.35,0.002)(2.45,0.002)(2.55,0.0025)(2.8,0.002)(2.85,0.001)(2.9,0.0005)(0.55,0.005)(0.6,0.002)(0.7,0.001)(0.9,0)(1,-0.001)(1.15,-0.002)(1.3,-0.002)(1.35,-0.003)(1.55,-0.001)(1.6,-0.001)(1.75,-0.001)(2,-0.002)(2.1,-0.002)(2.2,-0.003)(2.3,-0.002)(2.4,-0.004)(2.5,-0.003)(2.6,-0.001)(2.75,-0.001)(2.85,-0.002)(2.9,-0.004)(3,-0.002)(3.1,-0.003)(3.2,-0.0035)(3.3,-0.0035)(0.65,-0.003)(0.75,-0.005)(0.85,-0.004)(0.95,-0.006)(1.05,-0.005)(1.5,-0.003)(1.6,-0.005)(1.7,-0.005)(1.85,-0.006)(2.15,-0.005)(2.3,-0.006)(2.45,-0.006)(2.55,-0.006)(2.65,-0.007)(2.8,-0.007)(3.05,-0.007)(3.35,-0.005)(3.45,-0.007)(0.6,-0.008)(0.7,-0.01)(0.85,-0.009)(1,-0.009)(1.2,-0.009)(1.25,-0.011)(2.35,-0.008)(2.5,-0.009)(2.55,-0.01)(3.2,-0.01)(3.25,-0.01)(3.35,-0.011)(3.55,-0.009)(0.55,-0.012)(0.6,-0.012)(0.8,-0.012)(0.9,-0.013)(1.15,-0.012)(1.25,-0.012)(1.8,-0.012)(2.2,-0.011)(2.4,-0.012)(2.6,-0.012)(2.7,-0.012)(3.5,-0.012)(3.6,-0.011)(0.55,-0.017)(0.65,-0.016)(0.8,-0.015)(0.95,-0.015)(1.05,-0.015)(1.2,-0.016)(1.45,-0.015)(1.55,-0.016)(1.95,-0.014)(2.05,-0.015)(2.2,-0.016)(2.35,-0.017)(2.5,-0.015)(2.6,-0.014)(2.95,-0.015)(3.05,-0.016)(3.15,-0.013)(3.45,-0.017)(3.7,-0.014)(3.75,-0.017)(0.55,-0.022)(0.6,-0.021)(1.05,-0.02)(1.15,-0.021)(1.25,-0.018)(1.4,-0.02)(1.5,-0.02)(1.6,-0.02)(1.7,-0.02)(1.85,-0.02)(2.05,-0.02)(2.35,-0.022)(2.6,-0.019)(2.7,-0.02)(2.78,-0.02)(2.95,-0.019)(3.1,-0.019)(3.75,-0.02)(0.55,-0.024)(1.2,-0.027)(1.35,-0.025)(1.45,-0.023)(1.55,-0.026)(1.75,-0.025)(1.9,-0.024)(2,-0.022)(2.1,-0.026)(2.25,-0.025)(2.38,-0.027)(2.78,-0.025)(3.05,-0.027)(3.35,-0.026)(3.65,-0.027)(3.73,-0.026)(3.9,-0.023)(4,-0.023)(4.3,-0.023)(4.6,-0.025)(1.13,-0.034)(1.17,-0.03)(1.2,-0.033)(1.25,-0.031)(1.35,-0.03)(1.55,-0.033)(1.65,-0.031)(1.75,-0.03)(1.9,-0.03)(2,-0.028)(2.1,-0.032)(2.2,-0.032)(2.4,-0.03)(2.5,-0.03)(2.6,-0.032)(2.72,-0.033)(3.0,-0.034)(3.15,-0.033)(3.2,-0.03)(3.37,-0.033)(3.75,-0.028)(3.8,-0.033)(3.9,-0.028)(4,-0.034)(0.45,-0.03)(0.42,-0.028)(0.47,-0.032)(1.55,-0.038)(1.65,-0.037)(1.75,-0.035)(1.85,-0.036)(1.9,-0.04)(2.05,-0.038)(2.3,-0.035)(2.5,-0.035)(2.6,-0.036)(2.4,-0.04)(2.7,-0.038)(2.9,-0.04)(3.3,-0.038)(1.5,-0.044)(1.65,-0.042)(1.7,-0.046)(1.8,-0.046)(1.9,-0.043)(2,-0.044)(2.05,-0.046)(2.15,-0.046)(2.35,-0.043)(2.5,-0.042)(2.7,-0.042)(2.78,-0.046)(2.78,-0.048)(2.97,-0.044)(3.75,-0.047)(3.8,-0.0415)(3.88,-0.0415)(4.07,-0.0455)(4.15,-0.042)(4.42,-0.042)(4.47,-0.0425)(4.77,-0.04)(4.83,-0.041)(4.9,-0.038)(4.97,-0.036)(5,-0.033)(5.13,-0.0355)(1.73,-0.051)(1.85,-0.053)(1.9,-0.049)(2.28,-0.053)(2.43,-0.054)(2.5,-0.055)(2.58,-0.051)(1.8,-0.06)(1.93,-0.057)(2.02,-0.066)(1.98,-0.0625)(2.15,-0.069)(2.43,-0.066)(2.92,-0.062)(3.35,-0.06)(3.26,-0.0675)(3.02,-0.072)(3.19,-0.078)(2.7,-0.08)(3.57,-0.087)(4.6,-0.0715)(4.78,-0.094)(5.78,-0.03)
(0.52,-0.008)(0.5,-0.014)(0.48,-0.018)(0.47,-0.024)(0.44,-0.027)(0.4,-0.026)(0.48,-0.002)(0.5,0.002)(0.46,0.005)(0.42,0.009)(0.2,0.016)(0.15,0.021)(0.12,0.03)(0.08,0.037)(0.05,0.037)(0.02,-0.04)(0.02,-0.03)(0.03,-0.045)
(0.58,-0.005)(0.62,-0.014)(0.58,-0.019)(0.66,-0.009)(0.72,-0.003)(0.75,-0.013)(0.78,-0.018)(0.9,-0.005)(0.98,-0.011)(1.08,-0.013)(1.12,-0.007)(1.1,-0.018)(1.22,-0.005)(1.28,-0.016)(1.35,-0.009)(1.4,-0.013)(1.42,-0.005)(1.48,-0.018)(1.52,-0.009)(1.62,-0.013)(1.66,-0.023)(1.72,-0.013)(1.78,-0.008)(1.82,-0.016)(1.88,-0.027)(1.92,-0.033)(1.95,-0.037)(1.98,-0.024)(2.02,-0.03)(2.08,-0.042)(2.12,-0.036)(2.18,-0.023)(2.25,-0.019)(2.28,-0.029)(2.32,-0.013)(2.42,-0.018)(2.48,-0.024)(2.55,-0.021)(2.62,-0.004)(2.68,-0.009)(2.72,-0.003)(2.8,-0.011)(2.9,-0.008)(3,-0.012)(3.1,-0.012)(3.25,-0.016)(3.4,-0.01)(1.6,-0.039)(1.68,-0.034)(1.72,-0.04)(1.82,-0.041)(1.88,-0.045)(1.98,-0.04)(2.22,-0.038)(2.32,-0.04)(2.45,-0.045)(2.62,-0.043)};
\addplot[hl] coordinates {(-0.286,0)(6.071,0)};
\addplot[vl] coordinates {(0.0498,-0.1007)(0.0498,0.0439)};
\addplot[vl] coordinates {(0.4093,-0.1007)(0.4093,0.0439)};
\addplot[fitline] coordinates {(0.01,-0.028)(0.03,-0.01)(0.05,0)(0.09,0.01)(0.12,0.0125)(0.2,0.0115)(0.3,0.008)(0.4,0.001)(0.47,-0.005)(0.7,-0.0065)(1.1,-0.0085)(1.2,-0.0075)(1.6,-0.008)(2,-0.009)(2.3,-0.0095)(2.7,-0.012)(3.5,-0.017)(4.1,-0.023)(5,-0.031)(5.78,-0.036)};
\node[ann] at (axis cs:0.0498,0.0295) {GI=0.0498};
\node[ann] at (axis cs:0.4093,0.0179) {GI=0.4093};
\end{axis}
\node[subcap=10.1] at (669.5pt,412.5pt) {(f) GI (AS)};

% (g) STN (AM)
\begin{axis}[shap, shapfont={9.6}{10.2}, at={(36.75pt,241.95pt)}, width=211.35pt, height=157.05pt,
  xmin=0, xmax=5, ymin=-0.2579, ymax=0.1514,
  xtick={0,0.5,1,1.5,2,2.5,3,3.5,4,4.5,5}, xticklabels={0.0,0.5,1.0,1.5,2.0,2.5,3.0,3.5,4.0,4.5,5.0},
  ytick={-0.2,-0.1,0,0.1}, yticklabels={−0.2,−0.1,0.0,0.1},
  xlabel={STN}, ylabel={SHAP value for STN},
  xlabel style={at={(axis description cs:.5,-.121)}}, ylabel style={at={(axis description cs:-.136,.497)}}]
\addplot[cloud] coordinates {(0.46,-0.172)(0.69,-0.124)(1,-0.054)(1.16,-0.011)(1.43,0.04)(1.74,0.044)(1.86,0.066)(2.17,0.084)(2.52,0.114)(3.03,0.124)(3.3,0.119)(3.48,0.108)(3.4,0.085)(3.22,0.075)(2.87,0.059)(2.48,0.042)(2.25,0.039)(2.13,0.026)(1.94,-0.001)(1.7,-0.018)(1.55,-0.034)(1.37,-0.051)(1.26,-0.084)(1.12,-0.114)(0.885,-0.164)(0.73,-0.19)(0.57,-0.203)(0.46,-0.2)} --cycle;
\addplot[dots] coordinates {(0.22,-0.192)(0.23,-0.2)(0.25,-0.203)(0.28,-0.207)(0.27,-0.188)(0.31,-0.197)(0.3,-0.18)(0.32,-0.17)(0.34,-0.169)(0.37,-0.173)(0.4,-0.16)(0.42,-0.157)(0.43,-0.165)(0.47,-0.16)(0.4,-0.19)(0.43,-0.195)(0.67,-0.218)(0.67,-0.222)(0.55,-0.15)(0.62,-0.132)(0.67,-0.12)(0.74,-0.1)(0.8,-0.1)(0.85,-0.092)(0.87,-0.085)(0.9,-0.082)(0.95,-0.07)(1.03,-0.055)(1.1,-0.03)(1.17,-0.015)(1.22,0.005)(1.3,0.015)(1.36,0.03)(1.42,0.04)(1.5,0.042)(1.65,0.044)(1.85,0.065)(2.05,0.072)(2.15,0.08)(2.2,0.095)(2.25,0.096)(2.35,0.1)(2.5,0.115)(2.65,0.115)(2.8,0.118)(3.0,0.125)(3.1,0.127)(3.27,0.134)(3.32,0.127)(3.45,0.125)(3.5,0.112)(3.55,0.106)(3.65,0.098)(3.7,0.093)(3.75,0.095)(3.7,0.08)(3.78,0.085)(3.8,0.078)(3.83,0.095)(3.87,0.1)(3.9,0.108)(3.85,0.105)(4.0,0.093)(4.05,0.091)(4.08,0.09)(4.1,0.098)(3.2,0.058)(2.95,0.058)(2.75,0.048)(2.6,0.035)(2.5,0.047)(2.35,0.03)(2.05,0.03)(1.92,-0.002)
(0.5,-0.16)(0.55,-0.15)(0.6,-0.145)(0.65,-0.13)(0.7,-0.122)(0.75,-0.112)(0.8,-0.1)(0.85,-0.09)(0.9,-0.08)(0.95,-0.067)(1.0,-0.052)(1.05,-0.04)(1.1,-0.027)(1.15,-0.012)(1.2,0.002)(1.25,0.01)(1.3,0.022)(1.35,0.03)(1.4,0.04)(1.45,0.042)(1.55,0.041)(1.6,0.043)(1.7,0.043)(1.75,0.046)(1.8,0.056)(1.85,0.066)(1.9,0.066)(1.95,0.07)(2.0,0.067)(2.05,0.075)(2.1,0.08)(2.2,0.087)(2.3,0.095)(2.4,0.103)(2.45,0.11)(2.55,0.113)(2.7,0.116)(2.85,0.118)(2.95,0.122)(3.05,0.125)(3.15,0.125)(3.25,0.122)(3.35,0.118)(3.45,0.113)(3.5,0.088)(3.45,0.08)(3.3,0.076)(3.15,0.075)(3.05,0.067)(2.95,0.06)(2.85,0.058)(2.7,0.053)(2.6,0.048)(2.5,0.041)(2.4,0.042)(2.3,0.04)(2.2,0.036)(2.15,0.03)(2.1,0.024)(2.05,0.02)(2,0.012)(1.95,0.003)(1.9,-0.003)(1.85,-0.007)(1.8,-0.011)(1.75,-0.015)(1.7,-0.02)(1.65,-0.024)(1.6,-0.03)(1.55,-0.036)(1.5,-0.04)(1.45,-0.043)(1.4,-0.05)(1.35,-0.06)(1.3,-0.07)(1.25,-0.085)(1.2,-0.095)(1.15,-0.107)(1.1,-0.118)(1.05,-0.13)(1,-0.14)(0.95,-0.15)(0.9,-0.16)(0.85,-0.17)(0.8,-0.178)(0.75,-0.188)(0.7,-0.193)(0.65,-0.198)(0.6,-0.202)(0.55,-0.203)(0.5,-0.202)(0.45,-0.198)
(3.5,0.1)(3.52,0.095)(3.55,0.09)(3.58,0.1)(3.6,0.094)(3.62,0.087)(3.52,0.084)(3.48,0.09)(3.45,0.1)(3.42,0.107)(3.55,0.102)(3.5,0.083)(3.58,0.083)(3.42,0.092)(3.4,0.083)};
\addplot[hl] coordinates {(0,0)(5,0)};
\addplot[vl] coordinates {(1.6421,-0.2579)(1.6421,0.1514)};
\addplot[fitline] coordinates {(0.21,-0.24)(0.3,-0.22)(0.42,-0.2)(0.5,-0.187)(0.65,-0.155)(0.8,-0.125)(1,-0.09)(1.2,-0.054)(1.4,-0.027)(1.5,-0.014)(1.64,0)(1.8,0.02)(2,0.045)(2.2,0.062)(2.5,0.079)(2.8,0.0915)(3.2,0.099)(3.6,0.103)(4.1,0.108)};
\node[ann] at (axis cs:1.6421,0.1105) {STN=1.6421};
\end{axis}
\node[subcap=11.2] at (144pt,212pt) {(g) STN (AM)};

% (h) GI (AM)
\begin{axis}[shap, shapfont={10.3}{10.2}, at={(311.45pt,242.2pt)}, width=209.5pt, height=156.7pt,
  xmin=-0.407, xmax=9, ymin=-0.1967, ymax=0.1163,
  xtick={0,1,2,3,4,5,6,7,8,9}, xticklabels={0,1,2,3,4,5,6,7,8,9},
  ytick={-0.15,-0.1,-0.05,0,0.05,0.1}, yticklabels={−0.15,−0.10,−0.05,0.00,0.05,0.10},
  xlabel={GI}, ylabel={SHAP value for GI},
  xlabel style={at={(axis description cs:.499,-.1225)}}, ylabel style={at={(axis description cs:-.16,.5)}}]
\addplot[cloud] coordinates {(-0.03,-0.01)(-0.03,0.03)(0.03,0.07)(0.08,0.09)(0.12,0.08)(0.17,0.05)(0.22,0.03)(0.35,0.012)(0.5,0.002)(0.8,-0.008)(1.2,-0.018)(1.6,-0.032)(2,-0.04)(2.4,-0.05)(2.7,-0.06)(3,-0.075)(3.1,-0.095)(2.9,-0.11)(2.5,-0.12)(2,-0.11)(1.5,-0.11)(1,-0.092)(0.75,-0.077)(0.5,-0.054)(0.35,-0.025)(0.27,0)(0.2,0.02)(0.1,0.02)(0.03,0.015)(0.03,-0.01)} --cycle;
\addplot[dots] coordinates {(0.07,0.102)(0.07,0.095)(1,-0.004)(1.05,-0.008)(1.4,-0.02)(1.6,-0.018)(1.9,-0.03)(2.1,-0.028)(2.3,-0.032)(2.45,-0.04)(2.7,-0.04)(2.8,-0.05)(3,-0.048)(3.1,-0.06)(3.25,-0.058)(3.4,-0.055)(3.45,-0.065)(3.5,-0.05)(3.65,-0.055)(3.8,-0.055)(3.75,-0.062)(3.8,-0.07)(3.5,-0.072)(3.9,-0.075)(4.05,-0.05)(4.1,-0.055)(4.35,-0.056)(4.25,-0.07)(4.2,-0.072)(4.3,-0.07)(4.45,-0.068)(4.6,-0.072)(4.7,-0.075)(4.65,-0.08)(4.8,-0.056)(4.55,-0.082)(4.7,-0.09)(4.8,-0.092)(3.55,-0.08)(3.6,-0.085)(3.7,-0.088)(3.8,-0.078)(3.95,-0.085)(4,-0.082)(4.1,-0.08)(4.2,-0.09)(4.3,-0.085)(4.4,-0.095)(4.15,-0.095)(3.3,-0.092)(3.4,-0.098)(3.55,-0.095)(3.65,-0.1)(3.85,-0.1)(4.05,-0.1)(4.3,-0.102)(4.45,-0.102)(3.25,-0.105)(3.45,-0.115)(3.6,-0.115)(3.8,-0.11)(3.9,-0.115)(4,-0.12)(4.2,-0.115)(4.35,-0.122)(4.5,-0.115)(4.4,-0.125)(4.5,-0.12)(4.45,-0.13)(4.25,-0.135)(4.1,-0.135)(3.2,-0.12)(3.05,-0.12)(3,-0.13)(2.9,-0.125)(2.75,-0.13)(2.6,-0.13)(2.65,-0.115)(2.55,-0.135)(3.1,-0.135)(3.3,-0.14)(3.45,-0.138)(3.55,-0.14)(3.6,-0.14)(3.75,-0.14)(3.95,-0.14)(3.25,-0.127)(3.7,-0.13)(3.85,-0.125)(3.45,-0.13)(3.15,-0.148)(2.83,-0.141)(3.05,-0.14)(2.7,-0.137)(1.45,-0.122)(1.5,-0.115)(1.55,-0.13)(1.75,-0.134)(2.05,-0.122)(2.05,-0.128)(2.2,-0.127)(2.3,-0.125)(2.4,-0.12)(3.62,-0.156)(3.77,-0.164)(4.07,-0.147)(4.77,-0.12)(4.8,-0.128)(4.77,-0.138)(4.9,-0.132)(5,-0.15)(5.03,-0.143)(5.3,-0.148)(5.4,-0.15)(5.3,-0.16)(5.6,-0.142)(5.63,-0.144)(5.27,-0.13)(4.95,-0.12)(5,-0.11)(5.05,-0.115)(5.15,-0.115)(4.92,-0.108)(5.12,-0.1)(5.25,-0.098)(5.2,-0.082)(5.3,-0.08)(5.33,-0.073)(5.35,-0.09)(5.45,-0.088)(5.25,-0.09)(5.2,-0.1)(5.3,-0.105)(5.4,-0.108)(5.5,-0.114)(5.45,-0.119)(5.6,-0.09)(5.7,-0.09)(5.55,-0.098)(5.7,-0.097)(5.65,-0.107)(5.65,-0.111)(5.75,-0.114)(5.65,-0.118)(5.6,-0.12)(5.93,-0.124)(5.92,-0.182)(6.07,-0.124)(6.15,-0.147)(6.25,-0.13)(6.43,-0.152)(6.5,-0.129)(6.75,-0.134)(6.87,-0.14)(6.97,-0.13)(6,-0.1)(5.97,-0.063)(6,-0.07)(6.05,-0.072)(6.1,-0.072)(6.2,-0.061)(6.1,-0.08)(6.15,-0.112)(6.1,-0.113)(6.4,-0.115)(6.43,-0.11)(6.45,-0.104)(6.35,-0.072)(6.58,-0.082)(6.6,-0.083)(6.5,-0.09)(6.55,-0.093)(6.9,-0.063)(6.95,-0.097)(7.03,-0.1)(7.05,-0.1)(7.25,-0.086)(7.37,-0.094)(7.43,-0.083)(7.53,-0.117)(7.73,-0.101)(7.85,-0.134)(8.1,-0.076)(8.25,-0.08)(8.3,-0.066)(8.33,-0.076)
(0,0.05)(0,0.06)(0.03,0.07)(0.05,0.08)(0.07,0.088)(0.1,0.08)(0.12,0.07)(0.15,0.055)(0.2,0.035)(0.25,0.02)(0.3,0.015)(0.4,0.008)(0.5,0.002)(0.6,-0.002)(0.7,-0.004)(0.85,-0.008)(0.95,-0.012)(1.1,-0.016)(1.25,-0.022)(1.35,-0.027)(1.5,-0.03)(1.7,-0.033)(1.85,-0.037)(2.0,-0.04)(2.15,-0.043)(2.3,-0.047)(2.5,-0.052)(2.6,-0.055)(2.75,-0.055)(2.85,-0.062)(2.95,-0.07)(3.05,-0.08)(3.1,-0.09)(3.15,-0.1)(3.1,-0.11)(2.95,-0.117)(2.8,-0.12)(2.6,-0.122)(2.4,-0.115)(2.25,-0.115)(2.1,-0.112)(1.95,-0.11)(1.8,-0.108)(1.65,-0.11)(1.5,-0.108)(1.35,-0.105)(1.2,-0.102)(1.1,-0.098)(1,-0.093)(0.9,-0.09)(0.8,-0.08)(0.7,-0.073)(0.6,-0.065)(0.5,-0.055)(0.42,-0.04)(0.35,-0.025)(0.3,-0.012)(0.25,0)(0.22,0.01)(0.15,0.018)(0.08,0.018)(0.03,0.015)(0,0.01)(0,-0.002)(0,-0.008)(0.02,0.03)(0,0.04)
(2.9,-0.065)(3,-0.068)(3.1,-0.072)(3.15,-0.08)(3.2,-0.085)(3.25,-0.078)(3.3,-0.085)(3.2,-0.095)(3.25,-0.1)(3.35,-0.105)(3.2,-0.11)(3.1,-0.115)(3.05,-0.125)(2.95,-0.12)(2.85,-0.128)(2.7,-0.125)(3.15,-0.125)(3.35,-0.12)(3.4,-0.11)(3.5,-0.105)(3.55,-0.11)(3.7,-0.105)(3.75,-0.095)(3.9,-0.095)(3.95,-0.105)(4.1,-0.11)(4.25,-0.105)(3.35,-0.08)(3.45,-0.085)(3.65,-0.075)(3.7,-0.07)(4.0,-0.07)(4.1,-0.067)(4.15,-0.085)(2.8,-0.068)(3,-0.06)(3.15,-0.068)};
\addplot[hl] coordinates {(-0.407,0)(9,0)};
\addplot[vl] coordinates {(0.3313,-0.1967)(0.3313,0.1163)};
\addplot[fitline] coordinates {(0,0.024)(0.05,0.033)(0.12,0.047)(0.18,0.03)(0.25,0.012)(0.33,0)(0.38,-0.012)(0.45,-0.022)(0.6,-0.032)(0.8,-0.042)(1,-0.05)(1.3,-0.06)(1.6,-0.07)(2,-0.078)(2.5,-0.087)(3,-0.093)(3.5,-0.099)(4,-0.105)(5,-0.119)(6,-0.132)(7,-0.144)(8.32,-0.159)};
\node[ann] at (axis cs:0.3313,0.0844) {GI=0.3313};
\end{axis}
\node[subcap=11.2] at (413pt,212pt) {(h) GI (AM)};

% (i) STN (SM)
\begin{axis}[shap, shapfont={9}{9.8}, at={(562.55pt,244.5pt)}, width=205.8pt, height=150.95pt,
  xmin=0, xmax=1.5, ymin=-0.0524, ymax=0.3232,
  xtick={0,0.5,1,1.5}, xticklabels={0.0,0.5,1.0,1.5},
  ytick={0,0.1,0.2,0.3}, yticklabels={0.0,0.1,0.2,0.3},
  xlabel={STN}, ylabel={SHAP value for STN},
  xlabel style={at={(axis description cs:.5,-.119)}}, ylabel style={at={(axis description cs:-.107,.497)}}]
\addplot[cloud] coordinates {(0.2,-0.024)(0.22,-0.019)(0.27,-0.017)(0.3,-0.012)(0.33,-0.002)(0.38,0.006)(0.42,0.012)(0.46,0.018)(0.46,0.008)(0.42,-0.002)(0.36,-0.012)(0.3,-0.02)(0.29,-0.028)(0.25,-0.034)(0.22,-0.032)(0.2,-0.028)} --cycle;
\addplot[dots] coordinates {(0.2,-0.028)(0.22,-0.033)(0.24,-0.035)(0.26,-0.034)(0.28,-0.027)(0.22,-0.018)(0.25,-0.017)(0.27,-0.016)(0.3,-0.01)(0.32,-0.002)(0.33,0.005)(0.35,0.004)(0.37,0.012)(0.36,0.018)(0.38,0.014)(0.4,0.02)(0.39,0.03)(0.42,0.027)(0.44,0.033)(0.45,0.025)(0.46,0.018)(0.47,0.012)(0.46,0.01)(0.43,0.015)(0.41,0.01)(0.43,0.002)(0.42,-0.003)(0.4,-0.004)(0.38,-0.012)(0.36,-0.014)(0.48,0.028)(0.49,0.027)(0.45,0.034)(0.46,0.04)(0.47,0.032)(0.46,0.058)(0.47,0.04)(0.47,0.05)(0.48,0.058)(0.49,0.045)(0.5,0.05)(0.5,0.035)(0.52,0.03)(0.55,0.03)(0.53,0.037)(0.52,0.042)(0.54,0.048)(0.56,0.04)(0.55,0.053)(0.57,0.056)(0.58,0.05)(0.59,0.036)(0.6,0.053)(0.6,0.06)(0.58,0.062)(0.56,0.063)(0.55,0.064)(0.53,0.063)(0.52,0.055)(0.51,0.062)(0.5,0.066)(0.48,0.07)(0.5,0.076)(0.52,0.08)(0.53,0.075)(0.51,0.08)(0.54,0.07)(0.55,0.08)(0.56,0.08)(0.57,0.075)(0.58,0.088)(0.6,0.072)(0.59,0.065)(0.54,0.085)(0.55,0.087)(0.55,0.1)(0.57,0.098)(0.58,0.097)(0.59,0.105)(0.6,0.11)(0.57,0.117)(0.58,0.118)(0.59,0.12)(0.6,0.123)(0.61,0.128)(0.6,0.14)(0.6,0.135)(0.62,0.143)(0.63,0.14)(0.64,0.137)(0.65,0.125)(0.62,0.128)(0.6,0.106)(0.61,0.11)(0.62,0.1)(0.65,0.113)(0.67,0.13)(0.68,0.112)(0.68,0.105)(0.69,0.144)(0.71,0.127)(0.72,0.13)(0.72,0.12)(0.73,0.12)(0.75,0.125)(0.76,0.118)(0.75,0.112)(0.72,0.097)(0.74,0.097)(0.7,0.087)(0.71,0.083)(0.69,0.08)(0.68,0.09)(0.66,0.088)(0.67,0.08)(0.65,0.078)(0.64,0.087)(0.63,0.08)(0.65,0.07)(0.62,0.065)(0.64,0.055)(0.63,0.05)(0.66,0.06)(0.68,0.058)(0.69,0.07)(0.7,0.062)(0.7,0.058)(0.69,0.05)(0.71,0.05)(0.72,0.053)(0.71,0.055)(0.71,0.068)(0.73,0.065)(0.75,0.071)(0.74,0.08)(0.77,0.09)(0.77,0.095)(0.77,0.144)(0.78,0.14)(0.78,0.145)(0.79,0.14)(0.79,0.127)(0.8,0.15)(0.8,0.117)(0.79,0.115)(0.78,0.113)(0.81,0.115)(0.82,0.173)(0.82,0.203)(0.84,0.182)(0.85,0.176)(0.87,0.204)(0.89,0.187)(0.91,0.182)(0.92,0.192)(0.95,0.17)(1.12,0.19)(1.17,0.186)(1.17,0.175)(1.28,0.201)};
\addplot[hl] coordinates {(0,0)(1.5,0)};
\addplot[vl] coordinates {(0.3724,-0.0524)(0.3724,0.3232)};
\addplot[fitline] coordinates {(0.2,-0.025)(0.23,-0.026)(0.26,-0.026)(0.29,-0.018)(0.32,-0.01)(0.37,0)(0.4,0.005)(0.44,0.02)(0.48,0.04)(0.52,0.06)(0.57,0.077)(0.62,0.093)(0.68,0.115)(0.74,0.135)(0.8,0.15)(0.9,0.19)(1.0,0.226)(1.1,0.26)(1.28,0.306)};
\node[ann] at (axis cs:0.3724,0.285) {STN=0.3724};
\end{axis}
\node[subcap=10.7] at (668.5pt,216pt) {(i) STN (SM)};

% (j) GI (SM)
\begin{axis}[shap, shapfont={10}{10.2}, at={(39.75pt,41.2pt)}, width=214.95pt, height=157pt,
  xmin=-0.0988, xmax=2.048, ymin=-0.0288, ymax=0.0406,
  xtick={0,1,2}, xticklabels={0,1,2},
  ytick={-0.02,-0.01,0,0.01,0.02,0.03,0.04}, yticklabels={−0.02,−0.01,0.00,0.01,0.02,0.03,0.04},
  xlabel={GI}, ylabel={SHAP value for GI},
  xlabel style={at={(axis description cs:.497,-.122)}}, ylabel style={at={(axis description cs:-.152,.492)}}]
\addplot[cloud] coordinates {(-0.005,-0.024)(-0.005,0.005)(0.005,0.01)(0.01,0.005)(0.006,-0.01)(0.003,-0.024)} --cycle;
\addplot[cloud] coordinates {(0.08,0.022)(0.12,0.026)(0.17,0.025)(0.21,0.022)(0.2,0.019)(0.15,0.02)(0.1,0.02)} --cycle;
\addplot[dots] coordinates {(-0.003,-0.0255)(-0.003,-0.024)(0,-0.023)(-0.003,-0.02)(0,-0.018)(-0.003,-0.015)(0,-0.013)(-0.003,-0.01)(0,-0.007)(0,-0.004)(0,-0.002)(0.003,0.001)(0.005,0.002)(0,0.003)(0.01,0.005)(0.005,0.007)(0.01,0.01)(0.015,0.012)(0.02,0.014)(0.005,0.0235)(0.02,0.023)(0.03,0.0225)(0.04,0.02)(0.02,0.018)(0.03,0.016)(0.04,0.014)(0.05,0.012)(0.055,0.015)(0.06,0.013)(0.035,0.009)(0.04,0.01)(0.05,0.008)(0.06,0.011)(0.065,0.0075)(0.08,0.0065)(0.065,0.0035)(0.07,0.0045)(0.1,0.005)(0.1,0.008)(0.13,0.001)(0.05,0.027)(0.06,0.028)(0.07,0.0275)(0.04,0.0275)(0.08,0.025)(0.09,0.024)(0.1,0.022)(0.07,0.02)(0.08,0.018)(0.1,0.016)(0.08,0.015)(0.06,0.017)(0.1,0.0195)(0.12,0.02)(0.14,0.017)(0.13,0.015)(0.12,0.013)(0.15,0.014)(0.16,0.012)(0.18,0.015)(0.16,0.0095)(0.17,0.01)(0.14,0.01)(0.19,0.012)(0.2,0.0085)(0.24,0.009)(0.26,0.0085)(0.25,0.005)(0.24,0.0045)(0.27,0.003)(0.28,0.002)(0.31,0.0035)(0.29,0.0055)(0.32,0.006)(0.27,0.0008)(0.36,0.0003)(0.38,0.0003)(0.37,-0.0008)(0.44,0.0008)(0.45,-0.0003)(0.37,0.0055)(0.38,0.005)(0.39,0.0035)(0.4,0.0025)(0.41,0.0065)(0.43,0.005)(0.37,0.0075)(0.39,0.0085)(0.34,0.008)(0.31,0.0085)(0.3,0.0105)(0.28,0.011)(0.25,0.011)(0.23,0.013)(0.2,0.016)(0.22,0.015)(0.25,0.016)(0.27,0.015)(0.28,0.013)(0.3,0.013)(0.33,0.012)(0.35,0.011)(0.37,0.01)(0.39,0.01)(0.41,0.011)(0.34,0.0145)(0.36,0.015)(0.38,0.0165)(0.4,0.013)(0.38,0.0145)(0.36,0.0175)(0.33,0.0165)(0.31,0.017)(0.28,0.019)(0.3,0.02)(0.33,0.019)(0.35,0.0195)(0.37,0.02)(0.42,0.019)(0.36,0.0215)(0.38,0.021)(0.36,0.0225)(0.34,0.022)(0.3,0.023)(0.28,0.023)(0.32,0.021)(0.24,0.0235)(0.26,0.0235)(0.22,0.023)(0.24,0.02)(0.2,0.022)(0.18,0.024)(0.2,0.025)(0.23,0.026)(0.18,0.0275)(0.2,0.027)(0.15,0.0275)(0.17,0.026)(0.19,0.029)(0.13,0.03)(0.11,0.0275)(0.13,0.026)(0.09,0.029)(0.11,0.0305)(0.14,0.0315)(0.15,0.0315)(0.12,0.034)(0.11,0.036)(0.12,0.0375)(0.08,0.032)(0.05,0.031)(0.38,0.023)(0.4,0.023)(0.2,0.018)(0.25,0.019)(0.16,0.018)(0.59,0.0085)(0.71,0.0077)(0.95,-0.005)(1.0,0.0125)(1.04,0.0168)(1.61,0.0125)(1.62,0.0152)(1.69,0.0035)(1.95,0.0145)
(0.03,0.02)(0.05,0.018)(0.06,0.021)(0.09,0.019)(0.11,0.018)(0.15,0.019)(0.18,0.018)(0.22,0.018)(0.26,0.021)(0.29,0.021)(0.31,0.019)(0.34,0.02)(0.27,0.018)(0.23,0.021)(0.25,0.024)(0.27,0.022)(0.16,0.022)(0.13,0.023)(0.07,0.023)(0.05,0.023)(0.03,0.018)(0.02,0.011)(0.03,0.012)(0.03,0.014)(0.04,0.006)(0.05,0.005)(0.11,0.012)(0.17,0.014)(0.21,0.013)(0.24,0.015)(0.26,0.013)(0.29,0.016)(0.32,0.014)};
\addplot[hl] coordinates {(-0.0988,0)(2.048,0)};
\addplot[vl] coordinates {(0.0046,-0.0288)(0.0046,0.0406)};
\addplot[fitline] coordinates {(0,-0.014)(0.005,-0.005)(0.01,0.002)(0.02,0.008)(0.04,0.012)(0.07,0.0145)(0.1,0.0175)(0.13,0.0195)(0.16,0.0205)(0.2,0.02)(0.25,0.018)(0.3,0.0155)(0.38,0.0125)(0.45,0.0105)(0.59,0.0077)(0.7,0.0098)(0.95,0.0112)(1.02,0.0123)(1.5,0.0127)(1.95,0.0124)};
\node[ann] at (axis cs:0.0046,0.03365) {GI=0.0046};
\end{axis}
\node[subcap=11.2] at (142.5pt,10.5pt) {(j) GI (SM)};
\end{tikzpicture}
\end{document}
